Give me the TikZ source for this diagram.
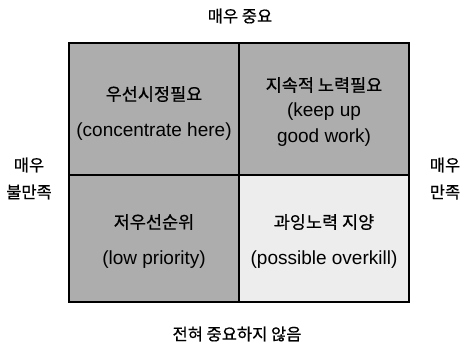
\documentclass[tikz,border=0pt]{standalone}
\usepackage{fontspec}
\setmainfont{Liberation Sans}
\newfontfamily\kfont[FakeBold=0.6]{Noto Sans CJK KR}
\usepackage{xcolor}
\definecolor{darkcell}{gray}{0.68}
\definecolor{lightcell}{gray}{0.93}

\begin{document}
\begin{tikzpicture}[x=1pt,y=-1pt]
\tikzstyle{every node}+=[inner sep=0pt]
\tikzstyle{cell}=[draw=black, line width=1.5pt, minimum width=170pt]
\tikzstyle{label}=[font=\kfont\fontsize{16.5}{18}\selectfont]
\tikzstyle{ko}=[font=\kfont\fontsize{17.5}{19}\selectfont]
\tikzstyle{en}=[font=\fontsize{19}{21}\selectfont]
\useasboundingbox (0,0) rectangle (461,346);
% the four cells
\node [cell, fill=darkcell, minimum height=132pt] (hiPoor) at (154,109) {};
\node [cell, fill=darkcell, minimum height=132pt] (hiGood) at (324,109) {};
\node [cell, fill=darkcell, minimum height=127pt] (loPoor) at (154,238.5) {};
\node [cell, fill=lightcell, minimum height=127pt] (loGood) at (324,238.5) {};
% cell texts
\node [ko] (hiPoorKo) at (154,94) {우선시정필요};
\node [en] (hiPoorEn) at (154,132) {(concentrate here)};
\node [ko] (hiGoodKo) at (324,85) {지속적 노력필요};
\node [en] (hiGoodEnA) at (324,112) {(keep up};
\node [en] (hiGoodEnB) at (324,138) {good work)};
\node [ko] (loPoorKo) at (154,222) {저우선순위};
\node [en] (loPoorEn) at (154,260) {(low priority)};
\node [ko] (loGoodKo) at (324,222) {과잉노력 지양};
\node [en] (loGoodEn) at (324,260) {(possible overkill)};
% axis labels
\node [label] (top) at (240,16) {매우 중요};
\node [label] (bottom) at (237,334) {전혀 중요하지 않음};
\node [label] (leftA) at (29,165) {매우};
\node [label] (leftB) at (29,192) {불만족};
\node [label] (rightA) at (445,165) {매우};
\node [label] (rightB) at (445,192) {만족};
\end{tikzpicture}
\end{document}
